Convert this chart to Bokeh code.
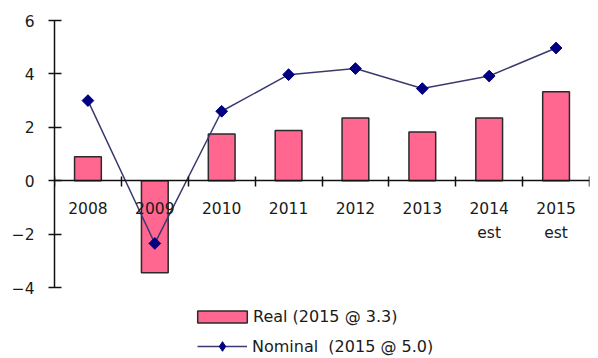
from bokeh.plotting import figure
from bokeh.models import (Range1d, LinearAxis, FixedTicker, Legend, LegendItem,
                          ColumnDataSource)
from bokeh.embed import file_html
from bokeh.resources import INLINE

years = ["2008", "2009", "2010", "2011", "2012", "2013", "2014\nest", "2015\nest"]
real = [0.9, -3.45, 1.75, 1.88, 2.35, 1.82, 2.35, 3.33]
nominal = [3.0, -2.35, 2.6, 3.97, 4.2, 3.45, 3.92, 4.97]
y_ticks = [-4, -2, 0, 2, 4, 6]

pos = [i + 0.5 for i in range(len(years))]
src = ColumnDataSource(dict(x=pos, real=real, nominal=nominal))

FONT = "DejaVu Sans"
TXT = "#1a1a1a"

p = figure(width=598, height=358, output_backend="svg", toolbar_location=None,
           x_range=Range1d(0, len(years)),
           y_range=Range1d(-4 - 71 / 26.7, 6 + 20 / 26.7),
           x_axis_location=None, y_axis_location=None,
           min_border_left=54, min_border_right=9,
           min_border_top=0, min_border_bottom=0)
p.outline_line_color = None
p.xgrid.visible = False
p.ygrid.visible = False
p.background_fill_color = "white"
p.border_fill_color = "white"

# y axis
yax = LinearAxis(ticker=FixedTicker(ticks=y_ticks), bounds=(-4, 6))
yax.axis_line_color = "#111111"
yax.axis_line_width = 1.5
yax.major_tick_line_color = "#111111"
yax.major_tick_line_width = 1.5
yax.major_tick_in = 7
yax.major_tick_out = 6
yax.minor_tick_line_color = None
yax.major_label_standoff = 14
yax.major_label_text_font = FONT
yax.major_label_text_font_size = "15.5px"
yax.major_label_text_color = TXT
p.add_layout(yax, "left")

# x axis at zero: boundary ticks
xax = LinearAxis(ticker=FixedTicker(ticks=list(range(len(years) + 1))), fixed_location=0)
xax.axis_line_color = "#111111"
xax.axis_line_width = 1.5
xax.major_tick_line_color = "#111111"
xax.major_tick_line_width = 1.5
xax.major_tick_in = 4
xax.major_tick_out = 6
xax.minor_tick_line_color = None
xax.major_label_text_alpha = 0
xax.major_label_text_font_size = "1px"
p.add_layout(xax, "below")

# x axis labels at category centers
lab = LinearAxis(ticker=FixedTicker(ticks=pos), fixed_location=0)
lab.axis_line_color = None
lab.major_tick_line_color = None
lab.minor_tick_line_color = None
lab.major_label_overrides = {pv: yv for pv, yv in zip(pos, years)}
lab.major_label_standoff = 13
lab.major_label_text_font = FONT
lab.major_label_text_font_size = "15.5px"
lab.major_label_text_color = TXT
lab.major_label_text_line_height = 1.35
p.add_layout(lab, "below")

bars = p.vbar(x="x", top="real", bottom=0, width=0.4, source=src,
              fill_color="#FF6690", line_color="#2a2a2a", line_width=1.5)
ln = p.line(x="x", y="nominal", source=src, line_color="#3a3a70", line_width=1.5)
dm = p.scatter(x="x", y="nominal", source=src, marker="diamond", size=10,
               fill_color="#000080", line_color="#000080")
mk = p.scatter(x="x", y="nominal", source=src, marker="square", angle=0.785398,
               size=8.3, fill_color="#000080", line_color="#000080")

leg1 = Legend(items=[LegendItem(label="Real (2015 @ 3.3)", renderers=[bars])],
              location=(137, 32), glyph_width=62, glyph_height=15,
              label_standoff=0, label_height=20, padding=0, margin=0,
              border_line_color=None, background_fill_alpha=0,
              label_text_font=FONT, label_text_font_size="16px",
              label_text_color=TXT)
leg2 = Legend(items=[LegendItem(label="Nominal  (2015 @ 5.0)", renderers=[ln, dm])],
              location=(143, 0), glyph_width=50, glyph_height=24,
              label_standoff=5, label_height=24, padding=0, margin=0,
              border_line_color=None, background_fill_alpha=0,
              label_text_font=FONT, label_text_font_size="16px",
              label_text_color=TXT)
p.add_layout(leg1, "center")
p.add_layout(leg2, "center")

open("out.html", "w").write(file_html(p, INLINE))
